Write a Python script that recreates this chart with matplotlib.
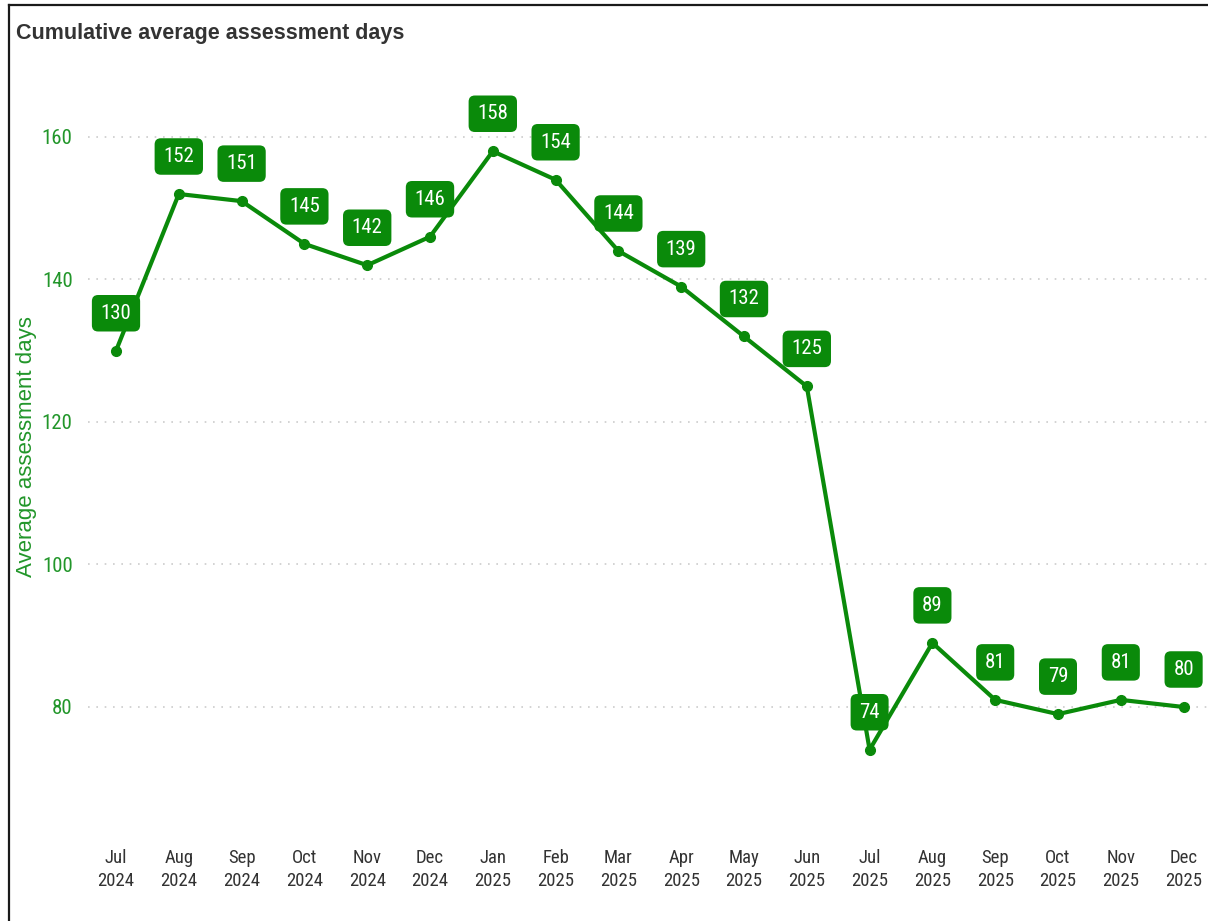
import matplotlib
matplotlib.use("Agg")
import matplotlib.pyplot as plt
from matplotlib.lines import Line2D
from matplotlib import font_manager

months = ["Jul", "Aug", "Sep", "Oct", "Nov", "Dec", "Jan", "Feb", "Mar", "Apr", "May", "Jun",
          "Jul", "Aug", "Sep", "Oct", "Nov", "Dec"]
years = ["2024"] * 6 + ["2025"] * 12
avg_days = [130, 152, 151, 145, 142, 146, 158, 154, 144, 139, 132, 125, 74, 89, 81, 79, 81, 80]
y_ticks = [80, 100, 120, 140, 160]

GREEN = "#0a8a0a"
TICK_GREEN = "#22962a"

available = {f.name for f in font_manager.fontManager.ttflist}
NARROW = [f for f in ["Liberation Sans Narrow", "Roboto Condensed", "DejaVu Sans Condensed",
                      "Liberation Sans"] if f in available] + ["DejaVu Sans"]
REGULAR = [f for f in ["Liberation Sans"] if f in available] + ["DejaVu Sans"]

W, H = 1208, 921
fig = plt.figure(figsize=(W / 100, H / 100), dpi=100)
fig.patch.set_facecolor("white")

ax_left, ax_right, ax_top, ax_bottom = 88, 1208, 60, 830
ax = fig.add_axes([ax_left / W, 1 - ax_bottom / H, (ax_right - ax_left) / W, (ax_bottom - ax_top) / H])

x = list(range(len(avg_days)))
ax.plot(x, avg_days, color=GREEN, lw=3.0, marker="o", ms=7, solid_joinstyle="round", zorder=3)

for xi, v in zip(x, avg_days):
    ax.annotate(str(v), (xi, v), xytext=(0, 27), textcoords="offset points",
                ha="center", va="center", color="white", fontsize=15, family=NARROW,
                bbox=dict(boxstyle="round,pad=0.42,rounding_size=0.3", fc=GREEN, ec="none"),
                zorder=4)

px_per_x = 62.8
ax.set_xlim((ax_left - 116) / px_per_x, (ax_right - 116) / px_per_x)
px_per_y = 7.125
ax.set_ylim(160 - (ax_bottom - 137) / px_per_y, 160 + (137 - ax_top) / px_per_y)

ax.set_yticks(y_ticks)
ax.set_yticklabels([str(t) for t in y_ticks], family=NARROW, fontsize=15, color=TICK_GREEN)
ax.set_xticks(x)
ax.set_xticklabels([f"{m}\n{y}" for m, y in zip(months, years)], family=NARROW,
                   fontsize=13.5, color="#333333", linespacing=1.3)
ax.tick_params(axis="both", length=0)
ax.tick_params(axis="y", pad=11)
ax.tick_params(axis="x", pad=14)
ax.grid(axis="y", color="#cccccc", linestyle=(0, (1, 4)), lw=1.2)
ax.grid(axis="x", visible=False)
for s in ax.spines.values():
    s.set_visible(False)

ax.set_ylabel("Average assessment days", color=TICK_GREEN, fontsize=16, family=REGULAR)
ax.yaxis.set_label_coords((37 - ax_left) / (ax_right - ax_left), (ax_bottom - 447) / (ax_bottom - ax_top))

fig.text(16 / W, 1 - 34 / H, "Cumulative average assessment days", ha="left", va="center",
         fontsize=15.5, fontweight="bold", color="#333333", family=REGULAR)

fig.add_artist(Line2D([9 / W, 9 / W], [0, 1 - 5 / H], color="#1a1a1a", lw=1.6, transform=fig.transFigure))
fig.add_artist(Line2D([9 / W, 1], [1 - 5 / H, 1 - 5 / H], color="#1a1a1a", lw=1.6, transform=fig.transFigure))

fig.savefig("out.png", dpi=100)
